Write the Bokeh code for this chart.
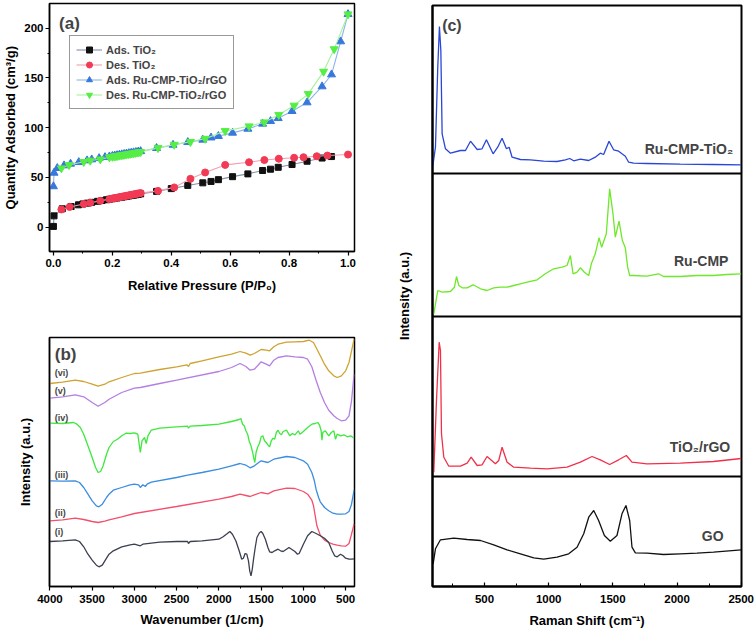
from bokeh.plotting import figure
from bokeh.layouts import row, column
from bokeh.models import (Range1d, SingleIntervalTicker, FixedTicker, Legend, LegendItem,
                          Span, Label, PrintfTickFormatter)
from bokeh.embed import file_html
from bokeh.resources import INLINE

FONT = "Liberation Sans"

# ---------------- (a) N2 isotherms ----------------
ads_tio2_x = [0.000, 0.002, 0.030, 0.060, 0.085, 0.100, 0.115, 0.130, 0.150, 0.165,
              0.180, 0.190, 0.200, 0.208, 0.216, 0.224, 0.232, 0.240, 0.248, 0.256,
              0.264, 0.272, 0.280, 0.288, 0.296, 0.350, 0.400, 0.456, 0.507, 0.535,
              0.560, 0.608, 0.660, 0.710, 0.737, 0.763, 0.810, 0.861, 0.912, 0.944]
ads_tio2_y = [0.8, 11.4, 18.5, 20.8, 22.5, 23.4, 24.2, 25.0, 26.0, 26.8,
              27.6, 28.1, 28.6, 29.0, 29.4, 29.8, 30.2, 30.6, 31.0, 31.4,
              31.8, 32.2, 32.6, 33.0, 33.5, 36.0, 38.8, 42.0, 44.6, 46.0,
              47.8, 50.8, 53.6, 57.0, 58.3, 60.2, 63.0, 66.3, 69.5, 71.0]

des_tio2_x = [0.027, 0.055, 0.103, 0.125, 0.159, 0.190, 0.200, 0.206, 0.212, 0.218,
              0.224, 0.230, 0.236, 0.242, 0.248, 0.254, 0.260, 0.266, 0.272, 0.278,
              0.284, 0.290, 0.296, 0.355, 0.410, 0.465, 0.515, 0.583, 0.664, 0.716,
              0.765, 0.817, 0.849, 0.894, 0.930, 1.000]
des_tio2_y = [17.8, 20.4, 23.3, 24.5, 26.5, 28.2, 28.8, 29.1, 29.5, 29.8,
              30.2, 30.5, 30.9, 31.2, 31.6, 31.9, 32.3, 32.6, 33.0, 33.3,
              33.7, 34.0, 34.3, 36.5, 40.0, 48.6, 55.0, 62.6, 65.3, 67.5,
              68.8, 69.8, 70.3, 71.3, 72.0, 73.0]

ads_ru_x = [0.000, 0.002, 0.013, 0.036, 0.058, 0.086, 0.114, 0.130, 0.155, 0.175,
            0.190, 0.200, 0.208, 0.216, 0.224, 0.232, 0.240, 0.248, 0.256, 0.264,
            0.272, 0.280, 0.288, 0.296, 0.350, 0.406, 0.456, 0.507, 0.535, 0.560,
            0.608, 0.660, 0.710, 0.737, 0.763, 0.810, 0.861, 0.912, 0.944, 0.975, 1.000]
ads_ru_y = [41.0, 54.6, 59.3, 62.0, 63.7, 65.3, 67.0, 68.0, 69.3, 70.3,
            71.0, 71.5, 71.9, 72.3, 72.7, 73.1, 73.5, 73.9, 74.3, 74.7,
            75.1, 75.5, 75.9, 76.3, 79.4, 82.7, 85.4, 87.8, 90.0, 91.5,
            94.8, 98.8, 103.9, 106.5, 109.5, 116.6, 125.3, 141.4, 153.4, 186.6, 214.0]

des_ru_x = [0.027, 0.053, 0.103, 0.125, 0.159, 0.190, 0.200, 0.206, 0.212, 0.218,
            0.224, 0.230, 0.236, 0.242, 0.248, 0.254, 0.260, 0.266, 0.272, 0.278,
            0.284, 0.290, 0.296, 0.355, 0.410, 0.465, 0.515, 0.583, 0.664, 0.716,
            0.765, 0.817, 0.865, 0.917, 0.953, 1.000]
des_ru_y = [59.3, 62.6, 65.7, 67.0, 68.3, 70.3, 70.9, 71.2, 71.5, 71.8,
            72.1, 72.4, 72.7, 73.0, 73.3, 73.6, 73.9, 74.2, 74.5, 74.8,
            75.1, 75.4, 75.7, 79.7, 83.0, 85.8, 89.0, 96.8, 101.5, 105.5,
            113.0, 122.3, 134.0, 156.4, 179.0, 214.0]

legend_labels = ["Ads. TiO\u2082", "Des. TiO\u2082",
                 "Ads. Ru-CMP-TiO\u2082/rGO", "Des. Ru-CMP-TiO\u2082/rGO"]

# ---------------- (b) FTIR ----------------
ir_vi_x = [4000, 3850, 3700, 3600, 3500, 3430, 3350, 3300, 3150, 3000, 2930, 2700, 2500,
           2380, 2360, 2340, 2200, 2000, 1850, 1750, 1680, 1630, 1580, 1500, 1440, 1400,
           1350, 1300, 1200, 1100, 1000, 930, 880, 850, 800, 750, 700, 640, 600, 550, 500,
           460, 430, 400]
ir_vi_y = [203.0, 204.3, 206.3, 205.0, 202.3, 200.3, 202.3, 204.7, 209.0, 213.0, 213.3,
           217.0, 219.7, 221.7, 220.0, 223.0, 225.7, 229.7, 232.3, 235.0, 233.3, 231.3,
           233.0, 237.0, 236.3, 235.7, 239.7, 242.3, 244.3, 244.7, 245.0, 246.3, 244.0,
           239.0, 230.7, 222.3, 215.7, 210.7, 209.0, 210.7, 215.7, 224.0, 235.7, 247.3]

ir_v_x = [4000, 3850, 3700, 3600, 3500, 3430, 3350, 3300, 3150, 3000, 2930, 2700, 2500,
          2000, 1850, 1750, 1680, 1630, 1580, 1500, 1440, 1400, 1350, 1300, 1200, 1100,
          1000, 950, 900, 850, 800, 750, 700, 640, 600, 550, 500, 460, 430, 400]
ir_v_y = [188.3, 189.7, 191.7, 189.7, 184.0, 180.3, 184.0, 187.3, 194.0, 198.3, 199.0,
          203.0, 206.3, 215.0, 219.0, 223.0, 220.0, 216.3, 217.3, 224.7, 222.3, 220.7,
          226.3, 229.0, 230.7, 229.7, 229.0, 227.3, 219.7, 206.3, 194.0, 184.0, 176.3,
          170.7, 168.0, 165.7, 166.3, 170.7, 185.7, 212.3]

ir_iv_x = [4000, 3850, 3720, 3680, 3640, 3600, 3550, 3500, 3460, 3430, 3400, 3370, 3330,
           3300, 3250, 3200, 3150, 3100, 3050, 3000, 2960, 2930, 2910, 2880, 2860, 2840,
           2800, 2700, 2500, 2370, 2360, 2340, 2200, 2000, 1850, 1760, 1740, 1720, 1700,
           1680, 1660, 1640, 1620, 1600, 1585, 1575, 1560, 1540, 1520, 1500, 1480, 1460,
           1440, 1420, 1400, 1380, 1360, 1340, 1320, 1300, 1280, 1260, 1240, 1200, 1160,
           1130, 1100, 1060, 1040, 1000, 950, 900, 860, 830, 810, 790, 780, 770, 740, 700,
           670, 640, 620, 600, 560, 520, 480, 440, 400]
ir_iv_y = [163.3, 163.0, 164.0, 162.3, 159.0, 152.3, 140.7, 129.0, 119.0, 114.0, 115.0,
           120.7, 132.3, 139.0, 145.0, 147.3, 150.7, 153.3, 153.0, 153.7, 152.3, 134.0,
           145.7, 149.0, 143.0, 150.7, 156.3, 158.3, 159.7, 160.3, 158.3, 160.3, 161.0,
           162.3, 165.0, 167.0, 168.0, 162.3, 160.7, 155.7, 152.3, 145.0, 140.7, 134.0,
           127.3, 124.0, 134.0, 139.7, 143.0, 149.7, 150.7, 145.7, 144.0, 141.7, 139.7,
           145.7, 148.3, 147.3, 154.0, 156.3, 153.0, 151.7, 155.0, 156.3, 150.7, 153.0,
           151.7, 155.7, 152.3, 155.0, 159.0, 162.3, 163.0, 164.0, 161.7, 155.7, 146.3,
           154.0, 155.7, 150.7, 154.0, 155.7, 147.3, 152.3, 150.7, 151.7, 149.7, 150.7, 148.3]

ir_iii_x = [4000, 3850, 3700, 3650, 3600, 3550, 3500, 3450, 3420, 3380, 3330, 3300, 3250,
            3150, 3050, 3000, 2950, 2930, 2900, 2870, 2850, 2800, 2500, 2370, 2200, 2000,
            1850, 1750, 1680, 1630, 1580, 1500, 1420, 1350, 1200, 1100, 1000, 950, 900,
            870, 850, 820, 800, 750, 700, 650, 600, 550, 500, 460, 430, 400]
ir_iii_y = [105.7, 105.3, 105.7, 104.0, 99.0, 92.3, 85.7, 80.7, 79.7, 82.3, 89.0, 92.3,
            96.3, 99.0, 101.7, 102.3, 101.7, 99.0, 101.7, 100.0, 102.3, 104.3, 109.0, 111.3,
            114.0, 117.3, 120.7, 123.0, 121.3, 118.7, 120.7, 125.7, 124.0, 127.3, 130.0,
            129.0, 125.7, 122.3, 114.0, 105.7, 97.3, 89.0, 84.7, 79.0, 75.7, 73.3, 72.3,
            72.3, 72.7, 75.0, 82.3, 96.3]

ir_ii_x = [4000, 3850, 3700, 3600, 3500, 3430, 3350, 3300, 3150, 3000, 2500, 2000, 1850,
           1750, 1680, 1630, 1580, 1500, 1420, 1350, 1200, 1100, 1000, 950, 900, 880, 860,
           840, 800, 750, 700, 650, 600, 550, 500, 460, 430, 400]
ir_ii_y = [65.7, 66.7, 68.3, 67.0, 65.0, 64.0, 65.3, 66.7, 69.7, 73.0, 80.0, 87.3, 90.0,
           92.3, 91.0, 90.0, 91.7, 94.0, 92.7, 95.7, 98.3, 98.0, 95.0, 92.3, 86.3, 80.7,
           70.7, 60.7, 51.3, 46.3, 44.0, 42.3, 41.3, 40.7, 40.3, 43.0, 52.3, 62.3]

ir_i_x = [4000, 3850, 3700, 3650, 3600, 3550, 3500, 3450, 3420, 3380, 3330, 3300, 3250,
          3150, 3050, 3000, 2930, 2900, 2700, 2500, 2370, 2360, 2340, 2200, 2000, 1950,
          1900, 1870, 1840, 1800, 1760, 1730, 1710, 1690, 1670, 1650, 1635, 1620, 1605,
          1590, 1570, 1550, 1520, 1500, 1480, 1450, 1420, 1400, 1370, 1340, 1300, 1270,
          1240, 1200, 1170, 1140, 1100, 1070, 1050, 1000, 950, 900, 850, 800, 750, 700,
          660, 630, 600, 560, 530, 500, 460, 430, 400]
ir_i_y = [45.0, 45.7, 46.7, 45.0, 39.7, 32.3, 26.3, 21.3, 19.7, 21.3, 28.3, 32.3, 35.7,
          39.7, 41.7, 42.3, 40.7, 42.3, 44.3, 45.0, 45.0, 43.0, 45.0, 45.7, 47.3, 49.7,
          53.0, 55.0, 52.3, 45.7, 35.7, 27.3, 28.3, 33.0, 32.3, 25.7, 15.7, 10.7, 17.3,
          27.3, 39.0, 49.0, 53.7, 55.0, 53.0, 47.3, 39.0, 34.7, 34.0, 35.7, 37.3, 35.7,
          35.0, 37.3, 39.0, 37.3, 35.0, 32.3, 33.0, 42.3, 50.7, 55.0, 53.0, 50.7, 48.3,
          44.0, 35.7, 30.7, 29.7, 32.3, 30.7, 28.3, 27.3, 27.3, 27.7]

ir_names = ["(vi)", "(v)", "(iv)", "(iii)", "(ii)", "(i)"]

# ---------------- (c) Raman ----------------
ram_go_x = [100, 118, 157, 261, 365, 469, 572, 676, 780, 884, 961, 1065, 1156, 1221, 1273,
            1312, 1351, 1389, 1434, 1480, 1532, 1571, 1602, 1631, 1649, 1675, 1766, 1895,
            2025, 2155, 2284, 2500]
ram_go_y = [22.7, 37.7, 46.7, 48.3, 47.0, 46.0, 41.7, 36.7, 32.7, 28.7, 27.3, 29.3, 32.7,
            39.3, 52.7, 69.3, 76.0, 66.0, 51.0, 45.3, 51.0, 72.7, 81.0, 66.0, 39.3, 33.7,
            33.3, 32.0, 32.7, 33.3, 34.3, 36.7]

ram_tr_x = [105, 126, 147, 157, 165, 183, 222, 313, 365, 396, 443, 481, 520, 585, 611, 637,
            676, 728, 858, 987, 1143, 1247, 1338, 1402, 1475, 1545, 1605, 1649, 1766, 2025,
            2284, 2500]
ram_tr_y = [4.3, 76.0, 134.3, 126.0, 42.7, 19.3, 10.3, 10.3, 13.3, 19.3, 11.0, 11.7, 20.0,
            12.7, 16.0, 29.3, 14.3, 9.3, 8.3, 7.7, 9.3, 14.3, 20.0, 16.7, 12.0, 16.7, 21.0,
            14.3, 12.7, 13.3, 15.0, 18.0]

ram_cmp_x = [105, 136, 170, 235, 266, 282, 300, 326, 365, 411, 469, 520, 572, 624, 676,
             728, 780, 832, 910, 974, 1039, 1104, 1143, 1169, 1190, 1221, 1247, 1278, 1312,
             1332, 1363, 1392, 1413, 1449, 1475, 1501, 1519, 1548, 1574, 1597, 1615, 1631,
             1662, 1766, 1856, 1895, 2025, 2155, 2284, 2388, 2500]
ram_cmp_y = [2.7, 26.0, 24.3, 25.0, 29.3, 40.0, 31.0, 28.7, 28.7, 31.7, 27.7, 26.0, 28.7,
             29.3, 29.3, 31.0, 32.7, 34.3, 36.7, 42.7, 47.7, 49.3, 51.0, 61.0, 42.7, 44.3,
             48.7, 44.3, 41.0, 52.7, 62.7, 78.7, 69.3, 82.7, 127.7, 102.7, 79.3, 95.3, 76.0,
             68.7, 49.3, 41.0, 41.0, 40.3, 42.7, 40.0, 40.0, 41.0, 41.0, 42.0, 42.7]

ram_rct_x = [98, 118, 136, 149, 160, 170, 196, 235, 313, 352, 391, 443, 481, 515, 567, 603,
             637, 671, 692, 715, 780, 858, 961, 1065, 1130, 1164, 1195, 1247, 1312, 1363,
             1402, 1428, 1470, 1506, 1545, 1571, 1597, 1623, 1662, 1766, 2025, 2284, 2500]
ram_rct_y = [8.0, 26.3, 106.3, 147.0, 123.0, 39.7, 24.7, 20.3, 23.0, 23.0, 32.3, 24.0, 24.7,
             33.7, 19.7, 26.3, 35.3, 24.7, 26.3, 16.3, 14.0, 13.7, 12.3, 12.0, 13.7, 15.0,
             12.7, 14.3, 13.0, 16.3, 20.3, 19.0, 32.3, 23.7, 22.3, 19.7, 17.3, 11.3, 10.3,
             10.0, 9.3, 9.0, 8.7]

ram_names = ["GO", "TiO\u2082/rGO", "Ru-CMP", "Ru-CMP-TiO\u2082"]


def style(p, tick_in=False):
    p.xgrid.visible = False
    p.ygrid.visible = False
    p.outline_line_color = "black"
    p.outline_line_width = 1.5
    p.background_fill_color = "white"
    p.border_fill_color = "white"
    for ax in p.xaxis + p.yaxis:
        ax.axis_label_text_font = FONT
        ax.axis_label_text_font_style = "bold"
        ax.axis_label_text_font_size = "13px"
        ax.major_label_text_font = FONT
        ax.major_label_text_font_style = "bold"
        ax.major_label_text_font_size = "11.5px"
        ax.major_label_text_color = "black"
        ax.axis_label_text_color = "black"
        ax.axis_line_width = 1.5
        ax.major_tick_line_width = 1.2
        ax.minor_tick_line_width = 1.0
        if tick_in:
            ax.major_tick_in = 4
            ax.major_tick_out = 0
            ax.minor_tick_in = 3
            ax.minor_tick_out = 0
        else:
            ax.major_tick_in = 0
            ax.major_tick_out = 4
            ax.minor_tick_in = 0
            ax.minor_tick_out = 2


def no_ticks(ax):
    ax.ticker = FixedTicker(ticks=[])
    ax.major_tick_line_color = None
    ax.minor_tick_line_color = None


# ---------- panel (a) ----------
pa = figure(width=375, height=320, output_backend="svg", toolbar_location=None,
            x_range=Range1d(-0.0134, 1.022), y_range=Range1d(-24.4, 224.8),
            min_border_left=46, min_border_right=21, min_border_top=3, min_border_bottom=69)
pa.xaxis.axis_label = "Relative Pressure (P/P\u2080)"
pa.yaxis.axis_label = "Quantity Adsorbed (cm\u00b3/g)"
pa.xaxis.ticker = SingleIntervalTicker(interval=0.2, num_minor_ticks=2)
pa.xaxis.formatter = PrintfTickFormatter(format="%.1f")
pa.yaxis.ticker = SingleIntervalTicker(interval=50, num_minor_ticks=2)
style(pa)
pa.xaxis.major_label_standoff = 3
pa.xaxis.axis_label_standoff = 8
pa.yaxis.major_label_standoff = 2
pa.yaxis.axis_label_standoff = 3

series_a = [
    (ads_tio2_x, ads_tio2_y, "#111111", "#8391a8", "square", 6),
    (des_tio2_x, des_tio2_y, "#f23a55", "#f49db0", "circle", 7),
    (ads_ru_x, ads_ru_y, "#3878dc", "#8cb6ea", "triangle", 8),
    (des_ru_x, des_ru_y, "#55ee44", "#a4f29c", "inverted_triangle", 8),
]
items = []
for (xs, ys, mc, lc, mk, sz), lab in zip(series_a, legend_labels):
    ln = pa.line(xs, ys, line_color=lc, line_width=1.1)
    sc = pa.scatter(xs, ys, marker=mk, size=sz, fill_color=mc, line_color=mc)
    items.append(LegendItem(label=lab, renderers=[ln, sc]))
leg = Legend(items=items, location=(20, 142), label_text_font=FONT,
             label_text_font_style="bold", label_text_font_size="11px",
             glyph_width=26, glyph_height=15, label_height=15, label_standoff=4,
             spacing=0, padding=6, margin=0, border_line_color="#333333",
             border_line_width=1, background_fill_color="white")
pa.add_layout(leg)
pa.add_layout(Label(x=0.019, y=205, text="(a)", text_font=FONT, text_font_style="bold",
                    text_font_size="17px", text_baseline="middle"))

# ---------- panel (b) ----------
pb = figure(width=375, height=311, output_backend="svg", toolbar_location=None,
            x_range=Range1d(4005, 395), y_range=Range1d(0, 249),
            min_border_left=46, min_border_right=21, min_border_top=17, min_border_bottom=45)
pb.xaxis.axis_label = "Wavenumber (1/cm)"
pb.yaxis.axis_label = "Intensity (a.u.)"
pb.xaxis.ticker = SingleIntervalTicker(interval=500, num_minor_ticks=2)
style(pb)
no_ticks(pb.yaxis[0])
pb.xaxis.major_label_standoff = 4
pb.xaxis.axis_label_standoff = 6
pb.yaxis.axis_label_standoff = 17

series_b = [
    (ir_vi_x, ir_vi_y, "#cfa332", 214.0),
    (ir_v_x, ir_v_y, "#b47fe2", 195.7),
    (ir_iv_x, ir_iv_y, "#3ee83e", 169.0),
    (ir_iii_x, ir_iii_y, "#3b8de0", 111.7),
    (ir_ii_x, ir_ii_y, "#f2506b", 73.3),
    (ir_i_x, ir_i_y, "#3b3f50", 54.7),
]
for (xs, ys, c, ly), nm in zip(series_b, ir_names):
    pb.line(xs, ys, line_color=c, line_width=1.3)
    pb.add_layout(Label(x=3942, y=ly, text=nm, text_font=FONT, text_font_style="bold",
                        text_font_size="9px", text_baseline="middle"))
pb.add_layout(Label(x=3942, y=232.3, text="(b)", text_font=FONT, text_font_style="bold",
                    text_font_size="17px", text_baseline="middle"))

# ---------- panel (c) ----------
pc = figure(width=381, height=631, output_backend="svg", toolbar_location=None,
            x_range=Range1d(95, 2502), y_range=Range1d(0, 581),
            min_border_left=57, min_border_right=15, min_border_top=5, min_border_bottom=45)
pc.xaxis.axis_label = "Raman Shift (cm\u207b\u00b9)"
pc.yaxis.axis_label = "Intensity (a.u.)"
pc.xaxis.ticker = SingleIntervalTicker(interval=500, num_minor_ticks=2)
style(pc, tick_in=True)
no_ticks(pc.yaxis[0])
pc.outline_line_width = 2
for ax in pc.xaxis + pc.yaxis:
    ax.axis_line_width = 2
pc.xaxis.major_label_standoff = 8
pc.xaxis.axis_label_standoff = 7
pc.yaxis.axis_label_standoff = 21

bases = [0, 110, 270, 413]
series_c = [
    (ram_go_x, ram_go_y, "#111111", 2362, 50.3),
    (ram_tr_x, ram_tr_y, "#f0304a", 2414, 29.3),
    (ram_cmp_x, ram_cmp_y, "#6ee82a", 2400, 56.0),
    (ram_rct_x, ram_rct_y, "#2a46d6", 2437, 25.0),
]
for (xs, ys, c, lx, ly), base, nm in zip(series_c, bases, ram_names):
    pc.line(xs, [v + base for v in ys], line_color=c, line_width=1.3)
    pc.add_layout(Label(x=lx, y=ly + base, text=nm, text_font=FONT, text_font_style="bold",
                        text_font_size="14px", text_align="right", text_baseline="middle"))
for b in bases[1:]:
    pc.add_layout(Span(location=b, dimension="width", line_color="black", line_width=2))
pc.add_layout(Label(x=170, y=561, text="(c)", text_font=FONT, text_font_style="bold",
                    text_font_size="16px", text_baseline="middle"))

layout = row(column(pa, pb, spacing=0), pc, spacing=0)
open("out.html", "w").write(file_html(layout, INLINE))
